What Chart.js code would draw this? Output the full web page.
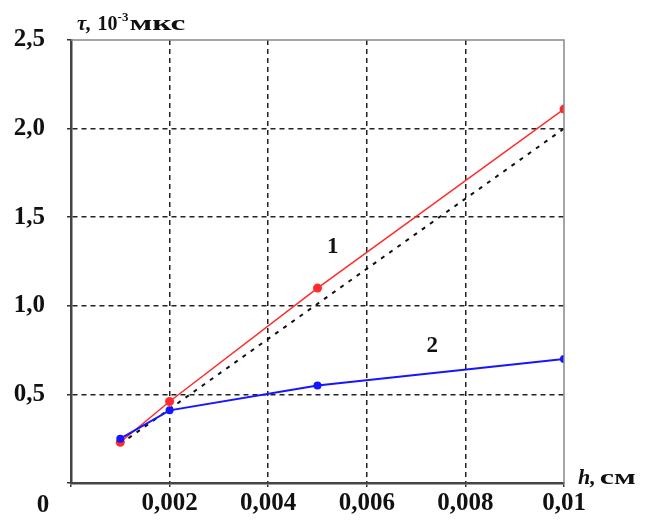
<!DOCTYPE html>
<html>
<head>
<meta charset="utf-8">
<script src="https://cdn.jsdelivr.net/npm/chart.js@4.4.0/dist/chart.umd.min.js"></script>
<style>
  html, body { margin: 0; padding: 0; background: #fff; }
  #wrap { width: 645px; height: 520px; }
</style>
</head>
<body>
<div id="wrap"><canvas id="chart" width="645" height="520"></canvas></div>
<script>
// data
const hValues = [0.001, 0.002, 0.005, 0.01];
const tau1 = [0.23, 0.46, 1.1, 2.11];
const tau2 = [0.25, 0.41, 0.55, 0.70];
const refH = [0.001, 0.01];
const refTau = [0.22, 2.0];

const xTickLabels = ['0', '0,002', '0,004', '0,006', '0,008', '0,01'];
const yTickLabels = ['0', '0,5', '1,0', '1,5', '2,0', '2,5'];

const serif = '"Liberation Serif", "DejaVu Serif", serif';

const toPoints = (xs, ys) => xs.map((x, i) => ({ x: x, y: ys[i] }));

// frame, origin label, axis titles and curve numbers
const extras = {
  id: 'extras',
  afterDraw(chart) {
    const ctx = chart.ctx;
    const a = chart.chartArea;
    const xs = chart.scales.x, ys = chart.scales.y;
    ctx.save();
    ctx.strokeStyle = '#888';
    ctx.lineWidth = 1.5;
    ctx.beginPath();
    ctx.moveTo(a.left, a.top);
    ctx.lineTo(a.right, a.top);
    ctx.lineTo(a.right, a.bottom);
    ctx.stroke();

    ctx.fillStyle = '#111';
    ctx.textBaseline = 'alphabetic';
    ctx.textAlign = 'center';
    ctx.font = 'bold 25px ' + serif;
    ctx.fillText('0', a.left - 28, a.bottom + 29);

    // curve numbers
    ctx.font = 'bold 23px ' + serif;
    ctx.textBaseline = 'middle';
    ctx.fillText('1', xs.getPixelForValue(0.00531), ys.getPixelForValue(1.33));
    ctx.fillText('2', xs.getPixelForValue(0.00733), ys.getPixelForValue(0.77));

    // y title
    ctx.textAlign = 'left';
    ctx.textBaseline = 'alphabetic';
    let x = 77, y = 30;
    ctx.font = 'italic bold 21px ' + serif;
    ctx.fillText('τ,', x, y);
    x += ctx.measureText('τ,').width + 6;
    ctx.font = 'bold 20px ' + serif;
    ctx.fillText('10', x, y);
    x += ctx.measureText('10').width;
    ctx.font = 'bold 13px ' + serif;
    ctx.fillText('-3', x, y - 9);
    x += ctx.measureText('-3').width + 1;
    ctx.font = 'bold 20px ' + serif;
    let w = ctx.measureText('мкс').width;
    ctx.save();
    ctx.translate(x, y);
    ctx.scale(56 / w, 1);
    ctx.fillText('мкс', 0, 0);
    ctx.restore();

    // x title
    x = 578; y = 484;
    ctx.font = 'italic bold 22px ' + serif;
    ctx.fillText('h,', x, y);
    x += ctx.measureText('h,').width + 4;
    ctx.font = 'bold 20px ' + serif;
    w = ctx.measureText('см').width;
    ctx.save();
    ctx.translate(x, y);
    ctx.scale(36 / w, 1);
    ctx.fillText('см', 0, 0);
    ctx.restore();
    ctx.restore();
  }
};

const edgeGrid = (ctx) => {
  const n = ctx.scale.ticks.length;
  return (ctx.index === 0 || ctx.index === n - 1) ? 'rgba(0,0,0,0)' : '#222';
};

new Chart(document.getElementById('chart'), {
  type: 'scatter',
  data: {
    datasets: [
      {
        label: '2',
        data: toPoints(hValues, tau2),
        showLine: true,
        borderColor: '#1515ff',
        backgroundColor: '#1515ff',
        borderWidth: 2,
        pointRadius: 4,
        pointBorderWidth: 0
      },
      {
        label: '1',
        data: toPoints(hValues, tau1),
        showLine: true,
        borderColor: '#ff2a2a',
        backgroundColor: '#ff2a2a',
        borderWidth: 1.5,
        pointRadius: 4.5,
        pointBorderWidth: 0
      },
      {
        label: 'ref',
        data: toPoints(refH, refTau),
        showLine: true,
        borderColor: '#111',
        borderWidth: 2,
        borderDash: [4, 6],
        pointRadius: 0
      }
    ]
  },
  options: {
    responsive: false,
    animation: false,
    layout: { padding: { top: 40, right: 81, left: 0, bottom: 0 } },
    plugins: { legend: { display: false }, tooltip: { enabled: false } },
    scales: {
      x: {
        type: 'linear',
        min: 0,
        max: 0.01,
        afterFit: s => { s.height = 36; },
        afterBuildTicks: s => { s.ticks = xTickLabels.map((t, i) => ({ value: i * 0.002 })); },
        ticks: {
          color: '#111',
          font: { family: serif, weight: 'bold', size: 25 },
          padding: 2,
          maxRotation: 0,
          callback: (v, i) => i === 0 ? '' : xTickLabels[i]
        },
        grid: { color: edgeGrid, lineWidth: 1.5, tickLength: 4, tickColor: '#333', tickWidth: 1.5 },
        border: { display: true, color: '#444', width: 2.5, dash: [5, 4] }
      },
      y: {
        type: 'linear',
        min: 0,
        max: 2.5,
        afterFit: s => { s.width = 71; },
        afterBuildTicks: s => { s.ticks = yTickLabels.map((t, i) => ({ value: i * 0.5 })); },
        ticks: {
          color: '#111',
          font: { family: serif, weight: 'bold', size: 25 },
          padding: 22,
          callback: (v, i) => i === 0 ? '' : yTickLabels[i]
        },
        grid: { color: edgeGrid, lineWidth: 1.5, tickLength: 4, tickColor: '#333', tickWidth: 1.5 },
        border: { display: true, color: '#444', width: 2.5, dash: [5, 4] }
      }
    }
  },
  plugins: [extras]
});
</script>
</body>
</html>
